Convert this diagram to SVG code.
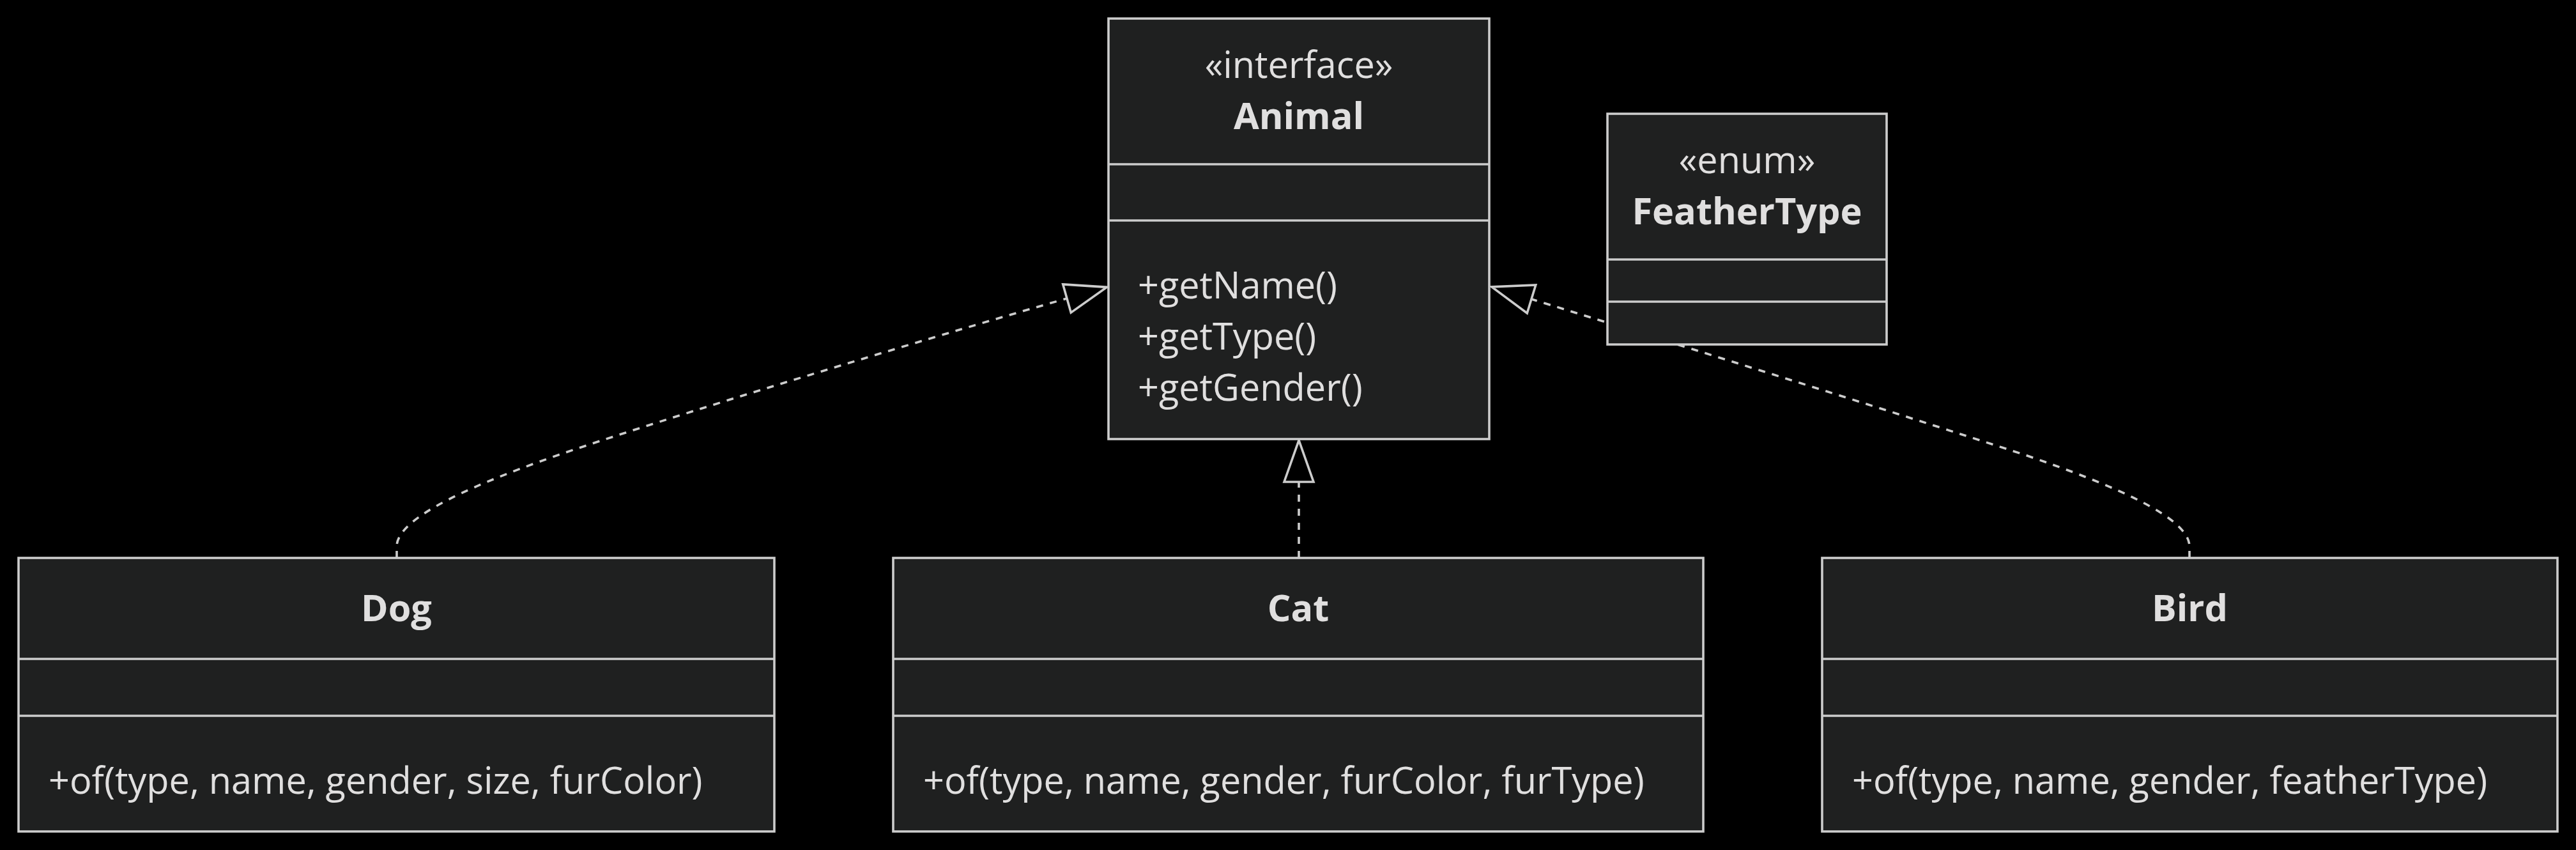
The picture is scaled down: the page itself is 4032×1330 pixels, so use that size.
<svg xmlns="http://www.w3.org/2000/svg" width="4032" height="1330" viewBox="0 0 4032 1330">
<style>
.bg{fill:#000000}
.box{fill:#1f2020;stroke:#cccccc;stroke-width:3.6}
.sep{stroke:#cccccc;stroke-width:3.6}
.t{font-family:"Open Sans","Noto Sans","Liberation Sans",sans-serif;font-size:57.6px;fill:#e0dfdf}
.c{text-anchor:middle}
.b{font-weight:bold}
.edge{fill:none;stroke:#cccccc;stroke-width:3.6;stroke-dasharray:11 11}
</style>
<defs>
<marker id="ext" markerUnits="userSpaceOnUse" viewBox="-5 -30 76 60" refX="0" refY="0" markerWidth="76" markerHeight="60" orient="auto" overflow="visible">
<path d="M0,-23 L65,0 L0,23 Z" fill="#000000" stroke="#cccccc" stroke-width="3.6" stroke-dasharray="none"/>
</marker>
</defs>
<rect class="bg" x="0" y="0" width="4032" height="1330"/>
<g id="connectors">
<path id="edge-dog-animal" class="edge" d="M621,873 L621,855 C621,810 740,757 900,703 C1100,636 1500,515 1670,467" marker-end="url(#ext)"/>
<path id="edge-cat-animal" class="edge" d="M2033,873 L2033,754" marker-end="url(#ext)"/>
<path id="edge-bird-animal" class="edge" d="M3427,873 L3427,855 C3427,810 3310,760 3170,712 C2950,640 2550,515 2397,468" marker-end="url(#ext)"/>
</g>
<g id="Animal">
<rect class="box" x="1735" y="29" width="596" height="658"/>
<line class="sep" x1="1735" y1="257" x2="2331" y2="257"/>
<line class="sep" x1="1735" y1="345" x2="2331" y2="345"/>
<text class="t c" x="2033" y="122">«interface»</text>
<text class="t c b" x="2033" y="202">Animal</text>
<text class="t" x="1781" y="467">+getName()</text>
<text class="t" x="1781" y="547">+getType()</text>
<text class="t" x="1781" y="627">+getGender()</text>
</g>
<g id="FeatherType">
<rect class="box" x="2516" y="178" width="437" height="361"/>
<line class="sep" x1="2516" y1="406" x2="2953" y2="406"/>
<line class="sep" x1="2516" y1="472" x2="2953" y2="472"/>
<text class="t c" x="2734.5" y="271">«enum»</text>
<text class="t c b" x="2734.5" y="351">FeatherType</text>
</g>
<g id="Dog">
<rect class="box" x="29" y="873" width="1183" height="428"/>
<line class="sep" x1="29" y1="1031" x2="1212" y2="1031"/>
<line class="sep" x1="29" y1="1120" x2="1212" y2="1120"/>
<text class="t c b" x="620.5" y="972">Dog</text>
<text class="t" x="76" y="1242">+of(type, name, gender, size, furColor)</text>
</g>
<g id="Cat">
<rect class="box" x="1398" y="873" width="1268" height="428"/>
<line class="sep" x1="1398" y1="1031" x2="2666" y2="1031"/>
<line class="sep" x1="1398" y1="1120" x2="2666" y2="1120"/>
<text class="t c b" x="2032" y="972">Cat</text>
<text class="t" x="1445" y="1242">+of(type, name, gender, furColor, furType)</text>
</g>
<g id="Bird">
<rect class="box" x="2852" y="873" width="1151" height="428"/>
<line class="sep" x1="2852" y1="1031" x2="4003" y2="1031"/>
<line class="sep" x1="2852" y1="1120" x2="4003" y2="1120"/>
<text class="t c b" x="3427.5" y="972">Bird</text>
<text class="t" x="2899" y="1242">+of(type, name, gender, featherType)</text>
</g>
</svg>
